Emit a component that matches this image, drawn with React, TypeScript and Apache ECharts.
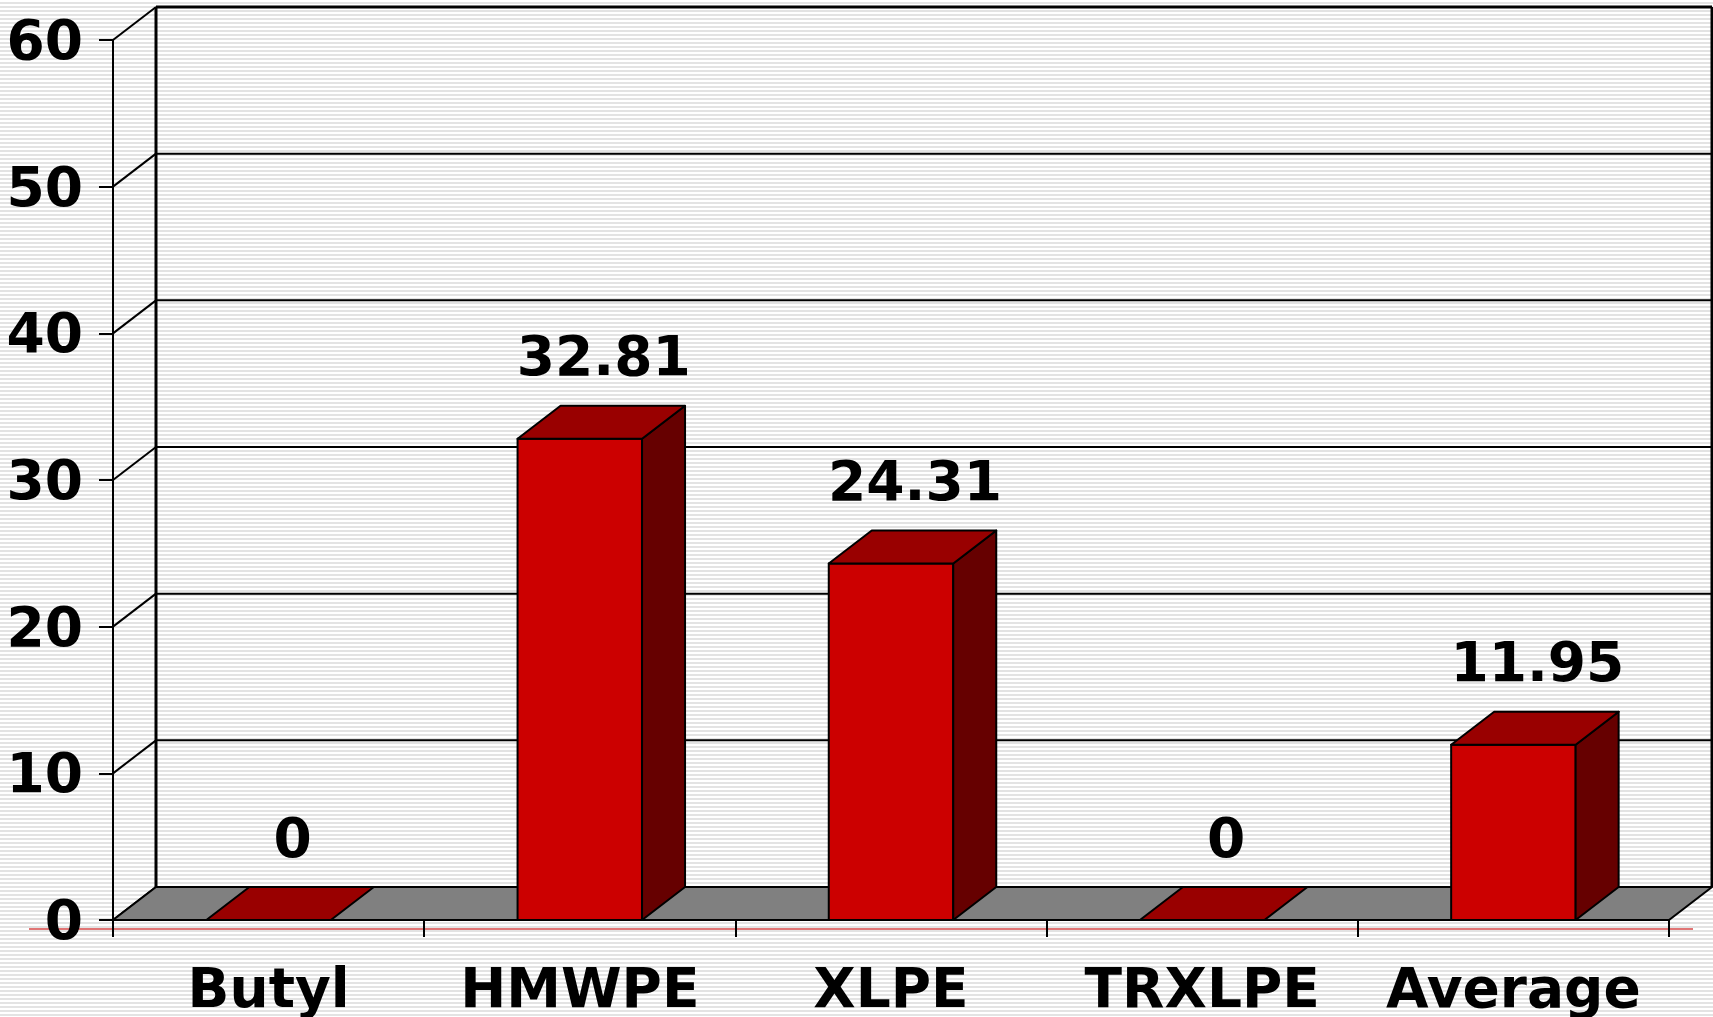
import React, { useEffect, useRef } from "react";
import * as echarts from "echarts";

const categories = ["Butyl", "HMWPE", "XLPE", "TRXLPE", "Average"];
const values = [0, 32.81, 24.31, 0, 11.95];
const valueLabels = ["0", "32.81", "24.31", "0", "11.95"];
const yTicks = [0, 10, 20, 30, 40, 50, 60];

const DX = 43;
const DY = 33;
const FONT = '"DejaVu Sans", Verdana, sans-serif';
const FONT_SIZE = 55;

export default function App() {
  const ref = useRef<HTMLDivElement>(null);

  useEffect(() => {
    if (!ref.current) return;
    const chart = echarts.init(ref.current, null, { renderer: "svg" });

    const line = (x1: number, y1: number, x2: number, y2: number, w: number) => ({
      type: "line",
      shape: { x1, y1, x2, y2 },
      style: { stroke: "#000", lineWidth: w },
    });

    const option: any = {
      animation: false,
      backgroundColor: "transparent",
      grid: { left: 113, top: 40, width: 1556, height: 880, containLabel: false },
      xAxis: {
        type: "category",
        data: categories,
        boundaryGap: true,
        axisLine: { show: true, lineStyle: { color: "#000", width: 2 } },
        axisTick: { show: true, length: 17, interval: 0, lineStyle: { color: "#000", width: 2 } },
        axisLabel: {
          interval: 0,
          margin: 40,
          color: "#000",
          fontSize: FONT_SIZE,
          fontWeight: "bold",
          fontFamily: FONT,
        },
        splitLine: { show: false },
      },
      yAxis: {
        type: "value",
        min: 0,
        max: 60,
        interval: 10,
        axisLine: { show: true, lineStyle: { color: "#000", width: 2 } },
        axisTick: { show: true, length: 14, lineStyle: { color: "#000", width: 2 } },
        axisLabel: {
          margin: 30,
          color: "#000",
          fontSize: FONT_SIZE,
          fontWeight: "bold",
          fontFamily: FONT,
        },
        splitLine: { show: false },
      },
      graphic: [
        {
          type: "line",
          z: -10,
          shape: { x1: 29, y1: 929, x2: 1693, y2: 929 },
          style: { stroke: "#e07575", lineWidth: 2 },
        },
      ],
      series: [
        {
          // back wall grid lines and diagonal connectors
          type: "custom",
          z: 1,
          silent: true,
          data: yTicks.map((v) => [0, v]),
          renderItem: (params: any, api: any) => {
            const cs = params.coordSys;
            const v = api.value(1);
            const yv = api.coord([0, v])[1];
            const children: any[] = [
              line(cs.x, yv, cs.x + DX, yv - DY, 2),
              line(cs.x + DX, yv - DY, cs.x + cs.width + DX, yv - DY, v === 60 ? 3 : 2),
            ];
            if (v === 60) {
              children.push(line(cs.x + DX, yv - DY, cs.x + DX, cs.y + cs.height - DY, 3));
              children.push(
                line(cs.x + cs.width + DX, yv - DY, cs.x + cs.width + DX, cs.y + cs.height - DY, 3)
              );
            }
            return { type: "group", children };
          },
        },
        {
          // floor
          type: "custom",
          z: 2,
          silent: true,
          data: [[0, 0]],
          renderItem: (params: any, api: any) => {
            const cs = params.coordSys;
            const y0 = api.coord([0, 0])[1];
            return {
              type: "polygon",
              shape: {
                points: [
                  [cs.x, y0],
                  [cs.x + cs.width, y0],
                  [cs.x + cs.width + DX, y0 - DY],
                  [cs.x + DX, y0 - DY],
                ],
              },
              style: { fill: "#808080", stroke: "#000", lineWidth: 2 },
            };
          },
        },
        {
          // 3D bars
          type: "custom",
          z: 3,
          data: values.map((v, i) => [i, v]),
          encode: { x: 0, y: 1 },
          renderItem: (params: any, api: any) => {
            const i = api.value(0);
            const v = api.value(1);
            const [cx, by] = api.coord([i, 0]);
            const ty = api.coord([i, v])[1];
            const bw = api.size([1, 0])[0] * 0.4;
            const xL = cx - bw / 2;
            const xR = cx + bw / 2;
            const st = (fill: string) => ({ fill, stroke: "#000", lineWidth: 2, lineJoin: "round" });
            const children: any[] = [];
            if (v > 0) {
              children.push({
                type: "polygon",
                shape: { points: [[xL, ty], [xR, ty], [xR, by], [xL, by]] },
                style: st("#cc0000"),
              });
              children.push({
                type: "polygon",
                shape: { points: [[xR, ty], [xR + DX, ty - DY], [xR + DX, by - DY], [xR, by]] },
                style: st("#660000"),
              });
            }
            children.push({
              type: "polygon",
              shape: { points: [[xL, ty], [xR, ty], [xR + DX, ty - DY], [xL + DX, ty - DY]] },
              style: st("#990000"),
            });
            children.push({
              type: "text",
              x: cx + 24,
              y: ty - DY - 22,
              style: {
                text: valueLabels[i],
                font: `bold ${FONT_SIZE}px ${FONT}`,
                fill: "#000",
                align: "center",
                textAlign: "center",
                verticalAlign: "bottom",
                textVerticalAlign: "bottom",
              },
            });
            return { type: "group", children };
          },
        },
      ],
    };

    chart.setOption(option);
    return () => chart.dispose();
  }, []);

  return (
    <div
      style={{
        position: "fixed",
        left: 0,
        top: 0,
        width: 1713,
        height: 1017,
        background:
          "repeating-linear-gradient(to bottom, #ffffff 0px, #ffffff 2px, #e3e3e3 2px, #e3e3e3 4px)",
      }}
    >
      <div ref={ref} style={{ width: 1713, height: 1017 }} />
    </div>
  );
}
